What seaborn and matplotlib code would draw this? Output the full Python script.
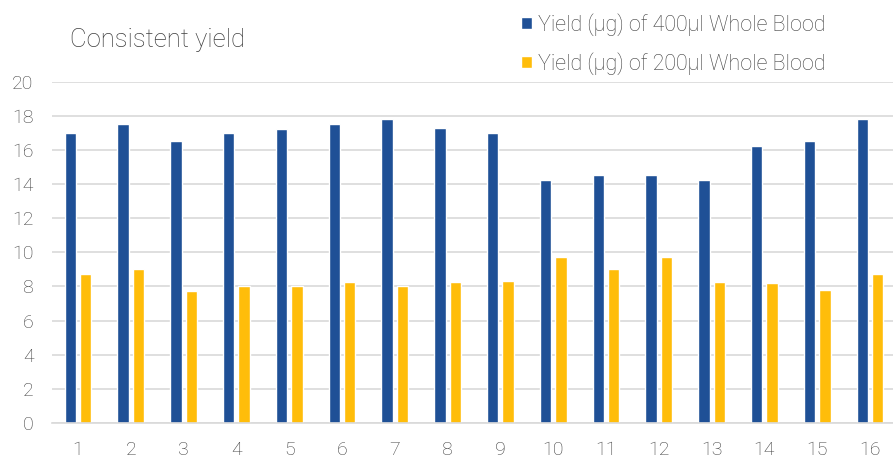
import pandas as pd
import numpy as np
import matplotlib
matplotlib.use("Agg")
import matplotlib.pyplot as plt
import seaborn as sns

# --- DATA ---
samples = [str(i) for i in range(1, 17)]
yield_400 = [17, 17.5, 16.5, 17, 17.25, 17.5, 17.8, 17.3, 17, 14.25, 14.5, 14.5, 14.25, 16.25, 16.5, 17.8]
yield_200 = [8.75, 9, 7.75, 8, 8, 8.25, 8, 8.25, 8.3, 9.75, 9, 9.75, 8.25, 8.2, 7.8, 8.75]
series_names = ["Yield (µg) of 400µl Whole Blood", "Yield (µg) of 200µl Whole Blood"]
y_ticks = [0, 2, 4, 6, 8, 10, 12, 14, 16, 18, 20]

df = pd.DataFrame({
    "sample": samples * 2,
    "value": yield_400 + yield_200,
    "series": [series_names[0]] * len(samples) + [series_names[1]] * len(samples),
})

sns.set_style("white")
plt.rcParams['font.family'] = ['Roboto', 'DejaVu Sans']

BLUE = "#1F5096"
GOLD = "#FFBD0A"
GRID = "#D9D9D9"
TXT = "#3F3F3F"

fig = plt.figure(figsize=(8.93, 4.58), dpi=100)
ax = fig.add_axes([0.0578, 0.0764, 0.946, 0.7454])

sns.barplot(data=df, x="sample", y="value", hue="series", order=samples,
            hue_order=series_names, palette=[BLUE, GOLD], width=0.58, gap=0.25,
            saturation=1, ax=ax, legend=True)

ax.set_ylim(0, 20)
ax.set_xlim(-0.5, 15.5)
ax.set_yticks(y_ticks)
ax.set_xlabel("")
ax.set_ylabel("")
ax.grid(axis="y", color=GRID, linewidth=1.2)
ax.set_axisbelow(True)
for s in ["top", "right", "left"]:
    ax.spines[s].set_visible(False)
ax.spines["bottom"].set_color(GRID)
ax.spines["bottom"].set_linewidth(1.2)
ax.tick_params(axis="both", length=0, labelsize=14, labelcolor=TXT)
ax.tick_params(axis="x", pad=13)
ax.tick_params(axis="y", pad=13)
for lbl in ax.get_xticklabels() + ax.get_yticklabels():
    lbl.set_fontweight("light")

handles, labels = ax.get_legend_handles_labels()
ax.legend(handles, labels, loc="upper left", bbox_to_anchor=(0.569, 1.0),
          bbox_transform=fig.transFigure, frameon=False,
          prop={"size": 15.5, "weight": "light"},
          handlelength=0.5, handleheight=0.5, handletextpad=0.3,
          labelspacing=0.77, labelcolor=TXT, borderaxespad=0.2)

fig.text(0.078, 0.912, "Consistent yield", fontsize=18.5, color=TXT,
         fontweight="light", va="center", ha="left")

fig.savefig("out.png", dpi=100)
